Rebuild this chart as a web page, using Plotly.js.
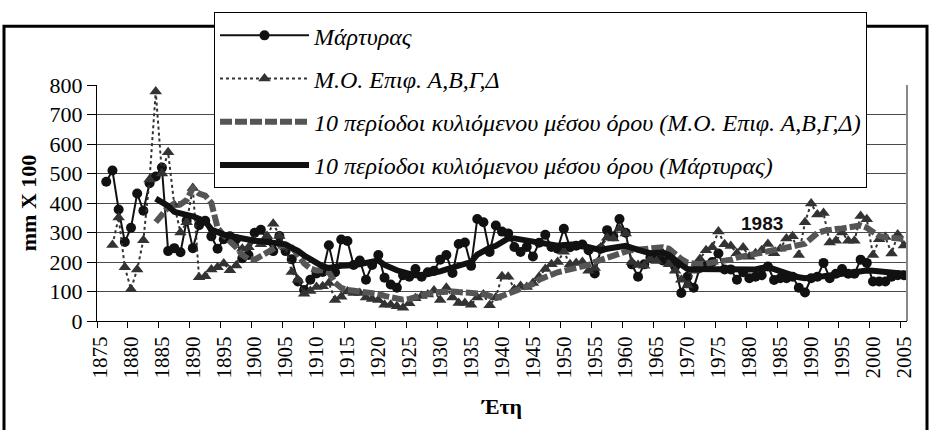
<!DOCTYPE html>
<html>
<head>
<meta charset="utf-8">
<script src="https://cdn.plot.ly/plotly-3.0.1.min.js"></script>
<style>html,body{margin:0;padding:0;background:#fff;}#chart{width:932px;height:430px;}</style>
</head>
<body>
<div id="chart"></div>
<script>
const years = [1875,1876,1877,1878,1879,1880,1881,1882,1883,1884,
1885,1886,1887,1888,1889,1890,1891,1892,1893,1894,
1895,1896,1897,1898,1899,1900,1901,1902,1903,1904,
1905,1906,1907,1908,1909,1910,1911,1912,1913,1914,
1915,1916,1917,1918,1919,1920,1921,1922,1923,1924,
1925,1926,1927,1928,1929,1930,1931,1932,1933,1934,
1935,1936,1937,1938,1939,1940,1941,1942,1943,1944,
1945,1946,1947,1948,1949,1950,1951,1952,1953,1954,
1955,1956,1957,1958,1959,1960,1961,1962,1963,1964,
1965,1966,1967,1968,1969,1970,1971,1972,1973,1974,
1975,1976,1977,1978,1979,1980,1981,1982,1983,1984,
1985,1986,1987,1988,1989,1990,1991,1992,1993,1994,
1995,1996,1997,1998,1999,2000,2001,2002,2003,2004,
2005];

// Μάρτυρας (mm x 100)
const martyras = [null,472,510,378,268,316,432,374,467,490,
520,237,247,233,340,247,325,340,287,245,
277,287,277,213,224,299,309,277,237,288,
237,209,134,105,140,161,166,257,165,276,
271,190,205,140,190,224,147,124,113,155,
150,176,150,165,170,208,224,163,261,266,
187,346,335,234,324,303,297,251,234,251,
219,265,292,251,245,313,250,255,259,240,
161,245,308,287,346,299,192,150,192,215,
215,205,203,185,95,150,113,180,187,200,
229,175,175,140,165,145,150,155,185,139,
145,145,150,113,97,145,150,197,145,160,
176,160,160,208,197,134,134,134,150,155,
155];

// Μ.Ο. Επιφ. Α,Β,Γ,Δ
const epif = [null,null,258,351,182,108,175,274,480,778,
500,572,393,300,335,451,148,152,175,182,
195,172,188,245,250,271,260,288,330,288,
250,166,140,92,102,115,118,129,71,82,
100,95,95,80,75,71,55,55,50,45,
60,77,85,90,103,71,113,80,61,61,
55,80,90,53,80,152,150,108,119,115,
129,150,176,192,200,235,192,197,200,170,
180,250,282,280,313,297,200,190,187,210,
203,230,192,170,140,120,170,210,240,250,
303,260,254,230,249,218,230,240,261,230,
245,280,287,224,335,398,361,366,266,272,
300,272,272,356,345,224,277,285,229,293,
256];

// 10 περίοδοι κυλιόμενου μέσου όρου (Μ.Ο. Επιφ. Α,Β,Γ,Δ)
const maEpif = [null,null,null,null,null,null,null,null,null,335,
360,385,398,395,410,450,432,425,400,316,
290,271,250,224,210,208,219,232,245,256,
258,250,225,195,178,171,172,165,130,112,
105,103,102,98,97,92,85,80,76,72,
75,80,86,94,97,98,100,100,98,96,
96,95,92,85,78,85,92,100,108,115,
125,140,150,158,165,170,175,178,182,190,
200,208,215,222,229,235,240,243,245,248,
250,250,245,225,210,198,195,192,195,197,
200,205,208,215,219,225,229,232,236,240,
243,248,252,256,262,280,298,305,310,312,
314,317,320,324,316,300,288,284,282,280,
278];

// 10 περίοδοι κυλιόμενου μέσου όρου (Μάρτυρας)
const maMartyras = [null,null,null,null,null,null,null,null,null,415,
405,390,370,367,360,355,345,338,310,300,
293,288,283,278,275,272,270,268,266,263,
260,248,238,222,210,195,185,180,185,187,
188,188,192,197,200,205,190,180,172,166,
158,155,155,158,163,168,175,182,187,193,
200,225,238,248,255,268,280,280,277,275,
272,268,262,258,255,258,260,260,255,250,
242,240,245,250,255,255,248,240,235,230,
230,232,224,205,190,176,176,176,176,176,
176,176,176,176,172,172,175,180,182,176,
168,160,155,148,145,145,150,152,155,156,
160,162,166,168,171,170,168,166,163,160,
160];

const tickYears = [1875,1880,1885,1890,1895,1900,1905,1910,1915,1920,1925,1930,1935,1940,1945,1950,1955,1960,1965,1970,1975,1980,1985,1990,1995,2000,2005];
const names = ["Μάρτυρας","Μ.Ο. Επιφ. Α,Β,Γ,Δ","10 περίοδοι κυλιόμενου μέσου όρου (Μ.Ο. Επιφ. Α,Β,Γ,Δ)","10 περίοδοι κυλιόμενου μέσου όρου (Μάρτυρας)"];
const noteYear = 1982, noteValue = 330, noteText = "1983";

const SERIF = '"Liberation Serif", "Times New Roman", Times, "DejaVu Serif", serif';
const SANS = '"Liberation Sans", Arial, "DejaVu Sans", sans-serif';

const W = 932, H = 430;
const M = {l: 97, r: 25, t: 68, b: 109};
const pw = W - M.l - M.r, ph = H - M.t - M.b;
const px2x = p => (p - M.l) / pw;
const px2y = p => (H - M.b - p) / ph;

const traces = [
  {x: years, y: martyras, name: names[0], type: 'scatter', mode: 'lines+markers',
   line: {color: '#111', width: 2}, marker: {symbol: 'circle', size: 10, color: '#111'},
   legendgroup: 'a'},
  {x: years, y: epif, name: names[1], type: 'scatter', mode: 'lines+markers',
   line: {color: '#333', width: 2, dash: 'dot'}, marker: {symbol: 'triangle-up', size: 11, color: '#333'},
   legendgroup: 'b'},
  {x: years, y: maEpif, name: names[2], type: 'scatter', mode: 'lines',
   line: {color: '#555', width: 6, dash: '12px,3px'}, legendgroup: 'c'},
  {x: years, y: maMartyras, name: names[3], type: 'scatter', mode: 'lines',
   line: {color: '#111', width: 6}, legendgroup: 'd'}
];

const layout = {
  width: W, height: H,
  margin: M,
  paper_bgcolor: '#fff', plot_bgcolor: '#fff',
  showlegend: true,
  font: {family: SERIF, size: 21, color: '#000'},
  xaxis: {
    range: [1874.5, 2005.5], autorange: false,
    tickmode: 'array', tickvals: tickYears, ticktext: tickYears.map(String),
    tickangle: -90, ticks: '', ticklabelstandoff: 6,
    tickfont: {family: SERIF, size: 21, color: '#000'},
    showgrid: false, zeroline: false,
    showline: true, linecolor: '#000', linewidth: 1,
    minor: {tick0: 1874.5, dtick: 5, ticks: 'outside', ticklen: 6, tickcolor: '#000', tickwidth: 1, showgrid: false},
    title: {text: 'Έτη', font: {family: SERIF, size: 22, weight: 'bold', color: '#000'}, standoff: 21},
    automargin: false
  },
  yaxis: {
    range: [0, 800], autorange: false,
    tickmode: 'linear', tick0: 0, dtick: 100,
    ticks: 'outside', ticklen: 9, tickcolor: '#000', tickwidth: 1,
    tickfont: {family: SERIF, size: 22, color: '#000'},
    showgrid: true, gridcolor: '#4a4a4a', gridwidth: 1,
    zeroline: false, showline: true, linecolor: '#000', linewidth: 1,
    title: {text: 'mm X 100', font: {family: SERIF, size: 22, weight: 'bold', color: '#000'}, standoff: 6},
    automargin: false
  },
  legend: {
    x: px2x(214), xanchor: 'left', y: px2y(-10), yanchor: 'top',
    bgcolor: '#fff', bordercolor: '#000', borderwidth: 1,
    font: {family: SERIF, size: 24, style: 'italic', color: '#000'},
    traceorder: 'grouped', tracegroupgap: 9, itemwidth: 89
  },
  annotations: [
    {x: noteYear, y: noteValue, xref: 'x', yref: 'y', text: noteText, showarrow: false,
     font: {family: SANS, size: 19, weight: 'bold', color: '#111'}}
  ],
  shapes: [
    {type: 'line', xref: 'paper', yref: 'paper', x0: 1, x1: 1, y0: 0, y1: 1, line: {color: '#888', width: 2}},
    {type: 'rect', xref: 'paper', yref: 'paper', x0: px2x(4), x1: px2x(927), y0: px2y(440), y1: px2y(5),
     line: {color: '#000', width: 3}, fillcolor: 'rgba(0,0,0,0)', layer: 'above'}
  ]
};

Plotly.newPlot('chart', traces, layout, {staticPlot: true, displayModeBar: false});
</script>
</body>
</html>
